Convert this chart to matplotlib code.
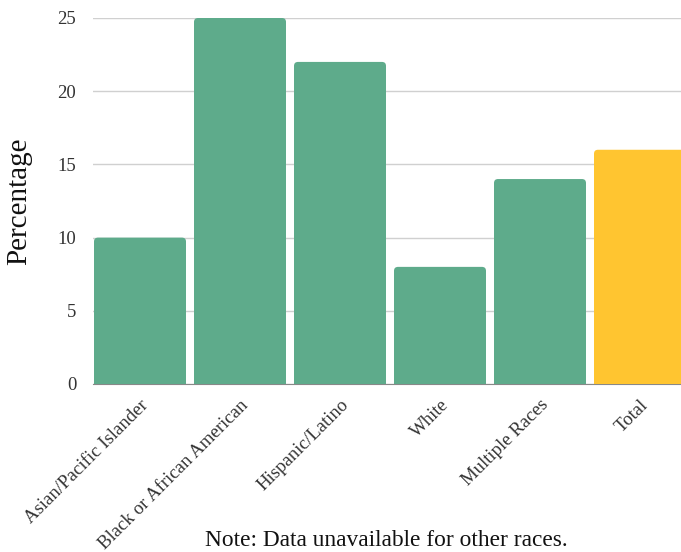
import matplotlib
matplotlib.use("Agg")
import matplotlib.pyplot as plt
from matplotlib.patches import FancyBboxPatch

categories = ["Asian/Pacific Islander", "Black or African American", "Hispanic/Latino",
              "White", "Multiple Races", "Total"]
values = [10, 25, 22, 8, 14, 16]
colors = ["#5eab8b"] * 5 + ["#ffc530"]
yticks = [0, 5, 10, 15, 20, 25]

plt.rcParams['font.family'] = ['Liberation Serif', 'DejaVu Serif']

fig = plt.figure(figsize=(6.81, 5.52), dpi=100)
ax = fig.add_axes([93 / 681, 1 - 384 / 552, 1 - 93 / 681, (384 - 18) / 552])

width = 0.92
px_x = 100.0
px_y = 366 / 25.0
for i, (v, c) in enumerate(zip(values, colors)):
    p = FancyBboxPatch((i - width / 2, -2), width, v + 2,
                       boxstyle="round,pad=0,rounding_size=0.04",
                       mutation_aspect=px_x / px_y,
                       facecolor=c, edgecolor="none", zorder=3)
    ax.add_patch(p)

ax.set_xlim(-0.47, 5.41)
ax.set_ylim(0, 25)
ax.set_yticks(yticks)
ax.set_xticks(range(len(categories)))
ax.set_xticklabels(categories, rotation=45, ha="right", rotation_mode="anchor")
ax.tick_params(axis="y", length=0, labelsize=13.5, colors="#333333", pad=12)
ax.tick_params(axis="x", length=0, labelsize=13.5, colors="#333333", pad=9)
ax.yaxis.grid(True, color="#d0d0d0", linewidth=1, zorder=0)
for s in ["top", "right", "left"]:
    ax.spines[s].set_visible(False)
ax.spines["bottom"].set_color("#888888")
ax.spines["bottom"].set_zorder(2)
ax.set_axisbelow(True)

ax.set_ylabel("Percentage", fontsize=21, color="#111111", labelpad=18)
fig.text(386 / 681, 1 - 540 / 552, "Note: Data unavailable for other races.",
         ha="center", va="center", fontsize=16.8, color="#111111")

fig.savefig("out.png", dpi=100)
